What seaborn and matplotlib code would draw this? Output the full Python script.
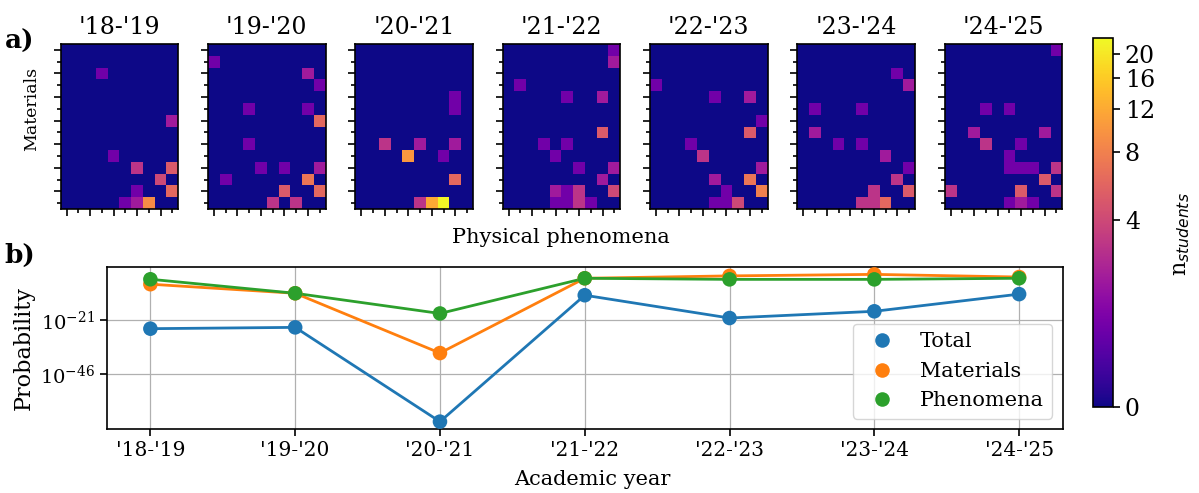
import numpy as np
import pandas as pd
import matplotlib
matplotlib.use("Agg")
import matplotlib.pyplot as plt
import matplotlib.colors as mcolors
from matplotlib.ticker import NullLocator
import seaborn as sns

plt.rcParams['font.family'] = 'DejaVu Serif'

# academic years
years = ["'18-'19", "'19-'20", "'20-'21", "'21-'22", "'22-'23", "'23-'24", "'24-'25"]

# non-empty heatmap cells: (material row, phenomenon column, n students)
cells_18_19 = [(2, 3, 1), (6, 9, 2), (9, 4, 1), (10, 6, 3), (10, 9, 5), (11, 8, 4), (12, 6, 1),
               (12, 9, 6), (13, 5, 1), (13, 6, 2), (13, 7, 9)]
cells_19_20 = [(1, 0, 1), (2, 8, 2), (3, 9, 1), (5, 3, 1), (5, 8, 1), (6, 9, 6), (8, 3, 1),
               (10, 4, 1), (10, 6, 1), (10, 9, 2), (11, 1, 1), (11, 8, 7), (12, 6, 5), (12, 9, 6),
               (13, 5, 3), (13, 7, 3)]
cells_20_21 = [(4, 8, 1), (5, 8, 1), (8, 2, 3), (8, 5, 2), (8, 8, 2), (9, 4, 10), (9, 7, 1),
               (11, 8, 6), (13, 5, 3), (13, 6, 12), (13, 7, 22)]
cells_21_22 = [(0, 9, 1), (1, 9, 2), (3, 1, 1), (4, 5, 1), (4, 8, 2), (7, 8, 5), (8, 3, 1),
               (8, 5, 1), (9, 4, 1), (10, 6, 1), (10, 9, 2), (11, 8, 2), (12, 4, 2), (12, 5, 1),
               (12, 6, 3), (12, 9, 4), (13, 4, 1), (13, 5, 1), (13, 6, 3), (13, 7, 1)]
cells_22_23 = [(3, 0, 1), (4, 5, 1), (4, 8, 2), (6, 9, 1), (7, 8, 5), (8, 3, 1), (9, 4, 3),
               (10, 9, 2), (11, 5, 2), (11, 8, 7), (12, 6, 1), (12, 9, 8), (13, 5, 1), (13, 6, 1),
               (13, 7, 4)]
cells_23_24 = [(2, 8, 1), (3, 9, 2), (5, 1, 1), (5, 5, 1), (7, 1, 2), (8, 3, 1), (8, 5, 1),
               (9, 7, 2), (10, 9, 1), (11, 8, 3), (12, 6, 3), (12, 9, 5), (13, 5, 3), (13, 6, 3),
               (13, 7, 6)]
cells_24_25 = [(0, 9, 1), (5, 3, 1), (5, 5, 1), (7, 2, 2), (7, 8, 2), (8, 3, 3), (8, 6, 1),
               (9, 5, 1), (10, 5, 1), (10, 6, 1), (10, 7, 1), (10, 9, 3), (11, 8, 5), (12, 0, 3),
               (12, 6, 5), (12, 9, 3), (13, 5, 1), (13, 6, 2), (13, 7, 1)]
all_cells = [cells_18_19, cells_19_20, cells_20_21, cells_21_22, cells_22_23, cells_23_24, cells_24_25]
n_materials = 14
n_phenomena = 10

# probabilities per year
p_total = [1e-25, 4e-25, 1.6e-68, 2.5e-10, 8e-21, 1e-17, 8e-10]
p_materials = [3e-5, 2e-9, 6e-37, 1.6e-2, 2e-1, 1.0, 6e-2]
p_phenomena = [5.6e-3, 2e-9, 1e-18, 1.6e-2, 5e-3, 5e-3, 1.6e-2]

cbar_ticks = [0, 4, 8, 12, 16, 20]

norm = mcolors.FuncNorm((np.log1p, np.expm1), vmin=0, vmax=23)

fig = plt.figure(figsize=(11.99, 4.93), dpi=100)

hm_left, hm_step, hm_w = 0.0506, 0.1229, 0.098
hm_bottom, hm_h = 0.576, 0.3347
mesh = None
for i, (year, cells) in enumerate(zip(years, all_cells)):
    ax = fig.add_axes([hm_left + i * hm_step, hm_bottom, hm_w, hm_h])
    mat = np.zeros((n_materials, n_phenomena))
    for r, c, v in cells:
        mat[r, c] = v
    sns.heatmap(mat, ax=ax, cmap='plasma', norm=norm, cbar=False)
    mesh = ax.collections[0]
    for sp in ax.spines.values():
        sp.set_visible(True)
        sp.set_linewidth(1.2)
    ax.set_xticks(np.arange(0, n_phenomena, 2) + 0.5)
    ax.set_xticks(np.arange(1, n_phenomena, 2) + 0.5, minor=True)
    ax.set_yticks(np.arange(0, n_materials, 2) + 0.5)
    ax.set_yticks(np.arange(1, n_materials, 2) + 0.5, minor=True)
    ax.set_xticklabels([])
    ax.set_yticklabels([])
    ax.tick_params(which='major', length=5, width=1.2)
    ax.tick_params(which='minor', length=3, width=1.2)
    ax.set_title(year, fontsize=17, pad=7)

fig.text(0.026, 0.78, 'Materials', rotation=90, ha='center', va='center', fontsize=12.5)
fig.text(0.468, 0.519, 'Physical phenomena', ha='center', va='center', fontsize=15)
fig.text(0.004, 0.915, 'a)', fontsize=19, fontweight='bold', va='center')
fig.text(0.004, 0.481, 'b)', fontsize=19, fontweight='bold', va='center')

# colorbar
cax = fig.add_axes([0.9116, 0.1744, 0.0167, 0.7485])
cbar = fig.colorbar(mesh, cax=cax)
cbar.set_ticks(cbar_ticks)
cbar.ax.yaxis.set_minor_locator(NullLocator())
cbar.ax.tick_params(labelsize=17, length=5, width=1.2)
cbar.outline.set_linewidth(1.2)
cbar.set_label('n$_{students}$', fontsize=16, labelpad=10)
cbar.ax.yaxis.set_label_coords(3.85, 0.47)

# line chart
df = pd.DataFrame({
    'year': years * 3,
    'p': p_total + p_materials + p_phenomena,
    'series': ['Total'] * 7 + ['Materials'] * 7 + ['Phenomena'] * 7,
})
pal = ['#1f77b4', '#ff7f0e', '#2ca02c']
ax2 = fig.add_axes([0.0892, 0.1298, 0.797, 0.3286])
sns.lineplot(data=df, x='year', y='p', hue='series', palette=pal, linewidth=2,
             legend=False, errorbar=None, sort=False, ax=ax2)
sns.scatterplot(data=df, x='year', y='p', hue='series', palette=pal, s=110,
                edgecolor='none', zorder=3, ax=ax2)
ax2.set_yscale('log')
ax2.set_yticks([1e-46, 1e-21])
ax2.yaxis.set_minor_locator(NullLocator())
ax2.grid(True, color='#b0b0b0', linewidth=0.9)
ax2.set_axisbelow(True)
for sp in ax2.spines.values():
    sp.set_linewidth(1.2)
ax2.tick_params(axis='x', labelsize=14.5, length=5, width=1.2)
ax2.tick_params(axis='y', labelsize=14, length=5, width=1.2)
ax2.set_xlabel('Academic year', fontsize=15, labelpad=6)
ax2.xaxis.set_label_coords(0.508, -0.255)
ax2.set_ylabel('Probability', fontsize=16)
leg = ax2.legend(loc='lower right', fontsize=15, title=None)

fig.savefig('out.png', dpi=100)
